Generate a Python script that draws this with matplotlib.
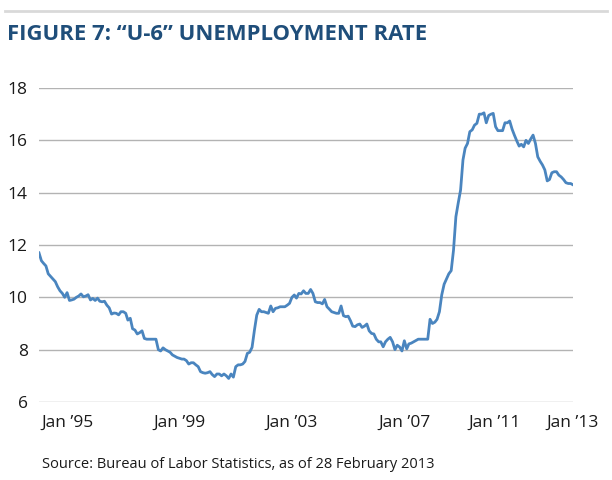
import matplotlib
matplotlib.use("Agg")
import matplotlib.pyplot as plt
import matplotlib.transforms as mtransforms
import pandas as pd

plt.rcParams['font.family'] = ['Open Sans', 'DejaVu Sans']

# monthly U-6 rate, Jan 1994 .. Jan 2013
u6_1994 = [11.7, 11.4, 11.3, 11.2, 10.9, 10.8, 10.7, 10.6, 10.4, 10.25, 10.15, 10.0]
u6_1995 = [10.18, 9.88, 9.9, 9.93, 10.0, 10.05, 10.13, 10.02, 10.05, 10.1, 9.9, 9.96]
u6_1996 = [9.88, 9.97, 9.85, 9.83, 9.85, 9.7, 9.6, 9.36, 9.4, 9.39, 9.33, 9.45]
u6_1997 = [9.45, 9.39, 9.13, 9.2, 8.8, 8.75, 8.6, 8.65, 8.72, 8.43, 8.4, 8.4]
u6_1998 = [8.4, 8.4, 8.4, 8.0, 7.95, 8.07, 8.0, 7.95, 7.9, 7.8, 7.75, 7.7]
u6_1999 = [7.67, 7.64, 7.64, 7.58, 7.45, 7.5, 7.5, 7.42, 7.35, 7.16, 7.12, 7.1]
u6_2000 = [7.12, 7.16, 7.05, 6.97, 7.07, 7.07, 7.0, 7.07, 7.0, 6.9, 7.07, 6.95]
u6_2001 = [7.35, 7.42, 7.42, 7.45, 7.55, 7.86, 7.9, 8.09, 8.75, 9.32, 9.54, 9.45]
u6_2002 = [9.45, 9.42, 9.39, 9.67, 9.45, 9.58, 9.6, 9.64, 9.64, 9.64, 9.7, 9.77]
u6_2003 = [10.0, 10.09, 9.97, 10.15, 10.13, 10.25, 10.15, 10.15, 10.3, 10.15, 9.83, 9.8]
u6_2004 = [9.8, 9.75, 9.92, 9.64, 9.55, 9.45, 9.42, 9.39, 9.39, 9.67, 9.3, 9.26]
u6_2005 = [9.28, 9.1, 8.9, 8.88, 8.95, 8.98, 8.85, 8.9, 8.98, 8.72, 8.62, 8.6]
u6_2006 = [8.4, 8.3, 8.3, 8.11, 8.3, 8.4, 8.47, 8.3, 8.0, 8.17, 8.1, 7.95]
u6_2007 = [8.34, 8.03, 8.22, 8.25, 8.3, 8.35, 8.4, 8.4, 8.4, 8.4, 8.4, 9.16]
u6_2008 = [9.0, 9.05, 9.16, 9.45, 10.09, 10.5, 10.7, 10.9, 11.02, 11.8, 13.08, 13.6]
u6_2009 = [14.1, 15.25, 15.7, 15.88, 16.33, 16.4, 16.58, 16.65, 17.0, 17.0, 17.05, 16.67]
u6_2010 = [16.95, 17.0, 17.03, 16.52, 16.37, 16.37, 16.37, 16.67, 16.67, 16.74, 16.43, 16.2]
u6_2011 = [15.98, 15.78, 15.85, 15.75, 16.0, 15.88, 16.05, 16.2, 15.88, 15.37, 15.2, 15.06]
u6_2012 = [14.87, 14.45, 14.5, 14.76, 14.8, 14.8, 14.67, 14.6, 14.5, 14.38, 14.35, 14.35]
u6_2013 = [14.3]

u6 = (u6_1994 + u6_1995 + u6_1996 + u6_1997 + u6_1998 + u6_1999 + u6_2000
      + u6_2001 + u6_2002 + u6_2003 + u6_2004 + u6_2005 + u6_2006 + u6_2007
      + u6_2008 + u6_2009 + u6_2010 + u6_2011 + u6_2012 + u6_2013)
months = pd.date_range("1994-01-01", periods=len(u6), freq="MS")

tick_years = [1995, 1999, 2003, 2007, 2011, 2013]
tick_labels = ["Jan \u201995", "Jan \u201999", "Jan \u201903", "Jan \u201907",
               "Jan \u201911", "Jan \u201913"]
y_ticks = [6, 8, 10, 12, 14, 16, 18]

title = "FIGURE 7: \u201cU-6\u201d UNEMPLOYMENT RATE"
source = "Source: Bureau of Labor Statistics, as of 28 February 2013"

fig = plt.figure(figsize=(6.12, 4.8), dpi=100)
ax = fig.add_axes([39 / 612, 1 - 402 / 480, 534 / 612, 314 / 480])

ax.plot(months, u6, color="#4a85bf", lw=2.0, solid_joinstyle="round")

ax.set_ylim(6, 18)
ax.set_xlim(months[0], months[-1])
ax.set_yticks(y_ticks)
ax.set_xticks([pd.Timestamp(f"{y}-01-01") for y in tick_years])
ax.set_xticklabels(tick_labels)
ax.grid(axis="y", color="#b3b3b3", lw=1)
ax.set_axisbelow(True)
for s in ax.spines.values():
    s.set_visible(False)
ax.tick_params(axis="both", length=0, labelsize=12.5, colors="#1a1a1a")
ax.tick_params(axis="y", pad=8)
ax.tick_params(axis="x", pad=9)

# Jan '11 label sits a bit left of its month in the original
lab = ax.get_xticklabels()[4]
lab.set_transform(lab.get_transform()
                  + mtransforms.ScaledTranslation(-0.22, 0, fig.dpi_scale_trans))

# top rule, title and source
fig.add_artist(plt.Line2D([5 / 612, 607 / 612], [1 - 11 / 480] * 2,
                          color="#d9d9d9", lw=2))
fig.text(7 / 612, 1 - 34 / 480, title, fontsize=15.9, fontweight="bold",
         color="#1f4e7a", va="center", ha="left")
fig.text(42 / 612, 1 - 464 / 480, source, fontsize=10.5, color="#1a1a1a",
         va="center", ha="left")

fig.savefig("out.png", dpi=100)
